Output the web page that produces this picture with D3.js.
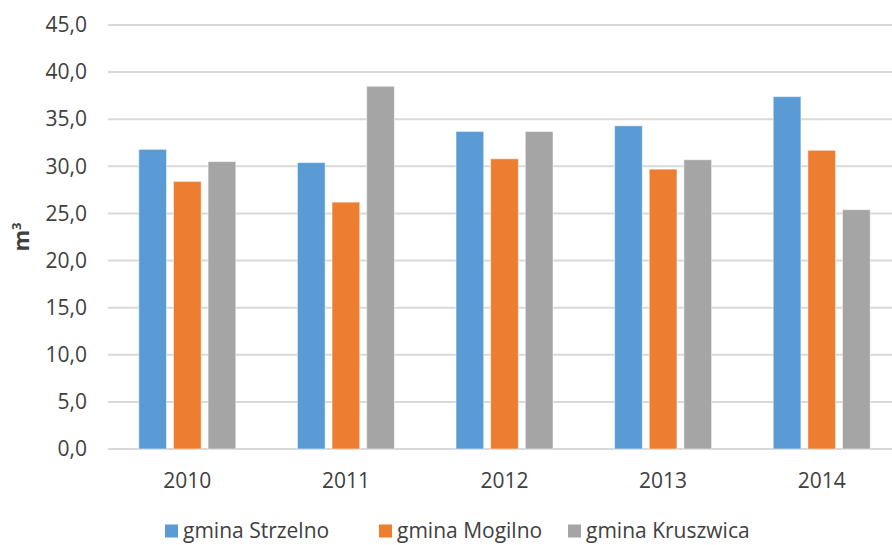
<!DOCTYPE html>
<html>
<head>
<meta charset="utf-8">
<script src="https://cdn.jsdelivr.net/npm/d3@7"></script>
<style>
  html, body { margin: 0; padding: 0; background: #fff; }
  svg text { font-family: "Open Sans", sans-serif; fill: #404040; }
</style>
</head>
<body>
<div id="chart"></div>
<script>
const years = ['2010', '2011', '2012', '2013', '2014'];
const seriesNames = ['gmina Strzelno', 'gmina Mogilno', 'gmina Kruszwica'];
const strzelno = [31.8, 30.4, 33.7, 34.3, 37.4];
const mogilno = [28.4, 26.2, 30.8, 29.7, 31.7];
const kruszwica = [30.5, 38.5, 33.7, 30.7, 25.4];
const yTicks = [0, 5, 10, 15, 20, 25, 30, 35, 40, 45];
const colors = ['#5B9BD5', '#ED7D31', '#A5A5A5'];

const WIDTH = 892, HEIGHT = 545;
const FONT = 21;
const margin = {top: 25, left: 108, bottom: 96};
const plotW = 793; // runs past the right edge, as in the source image

const values = [strzelno, mogilno, kruszwica];

const svg = d3.select('#chart').append('svg')
    .attr('width', WIDTH)
    .attr('height', HEIGHT);

const y = d3.scaleLinear()
    .domain([0, 45])
    .range([HEIGHT - margin.bottom, margin.top]);

const x = d3.scaleBand()
    .domain(years)
    .range([margin.left, margin.left + plotW]);

const xInner = d3.scaleBand()
    .domain(seriesNames)
    .range([0, 97])
    .paddingInner(0.2);

// gridlines
svg.append('g').attr('class', 'grid')
    .selectAll('line')
    .data(yTicks)
    .join('line')
    .attr('x1', margin.left)
    .attr('x2', margin.left + plotW)
    .attr('y1', d => y(d))
    .attr('y2', d => y(d))
    .attr('stroke', '#D9D9D9')
    .attr('stroke-width', 2);

// y axis labels
const yAxis = d3.axisLeft(y)
    .tickValues(yTicks)
    .tickSize(0)
    .tickPadding(0)
    .tickFormat(d => d.toFixed(1).replace('.', ','));

svg.append('g')
    .attr('transform', `translate(87,0)`)
    .call(yAxis)
    .call(g => g.select('.domain').remove())
    .call(g => g.selectAll('text')
        .attr('font-size', FONT)
        .attr('font-family', '"Open Sans", sans-serif')
        .attr('fill', '#404040'));

// x axis labels
const xAxis = d3.axisBottom(x).tickSize(0).tickPadding(0);
svg.append('g')
    .attr('transform', `translate(0,${y(0) + 24})`)
    .call(xAxis)
    .call(g => g.select('.domain').remove())
    .call(g => g.selectAll('text')
        .attr('font-size', FONT)
        .attr('font-family', '"Open Sans", sans-serif')
        .attr('fill', '#404040'));

// bars
const groups = svg.append('g').attr('class', 'bars')
    .selectAll('g')
    .data(years)
    .join('g')
    .attr('transform', d => `translate(${x(d) + (x.bandwidth() - 97) / 2},0)`);

groups.selectAll('rect')
    .data((d, i) => seriesNames.map((s, j) => ({s, v: values[j][i], c: colors[j]})))
    .join('rect')
    .attr('x', d => xInner(d.s))
    .attr('width', xInner.bandwidth())
    .attr('y', d => y(d.v))
    .attr('height', d => y(0) - y(d.v))
    .attr('fill', d => d.c)
    .attr('stroke', '#fff')
    .attr('stroke-opacity', 0.5)
    .attr('stroke-width', 1);

// y axis title
svg.append('text')
    .attr('transform', `translate(29,${(y(0) + y(45)) / 2}) rotate(-90)`)
    .attr('text-anchor', 'middle')
    .attr('font-size', 22)
    .attr('font-weight', 'bold')
    .text('m')
    .append('tspan')
    .attr('dy', -8)
    .attr('font-size', 13)
    .text('3');

// legend
const legendX = [165, 379, 568];
const legend = svg.append('g').attr('class', 'legend')
    .selectAll('g')
    .data(seriesNames)
    .join('g')
    .attr('transform', (d, i) => `translate(${legendX[i]},531)`);

legend.append('rect')
    .attr('x', 0)
    .attr('y', -6.5)
    .attr('width', 13)
    .attr('height', 13)
    .attr('fill', (d, i) => colors[i]);

legend.append('text')
    .attr('x', 18)
    .attr('y', 0)
    .attr('dy', '0.33em')
    .attr('font-size', FONT)
    .text(d => d);
</script>
</body>
</html>
